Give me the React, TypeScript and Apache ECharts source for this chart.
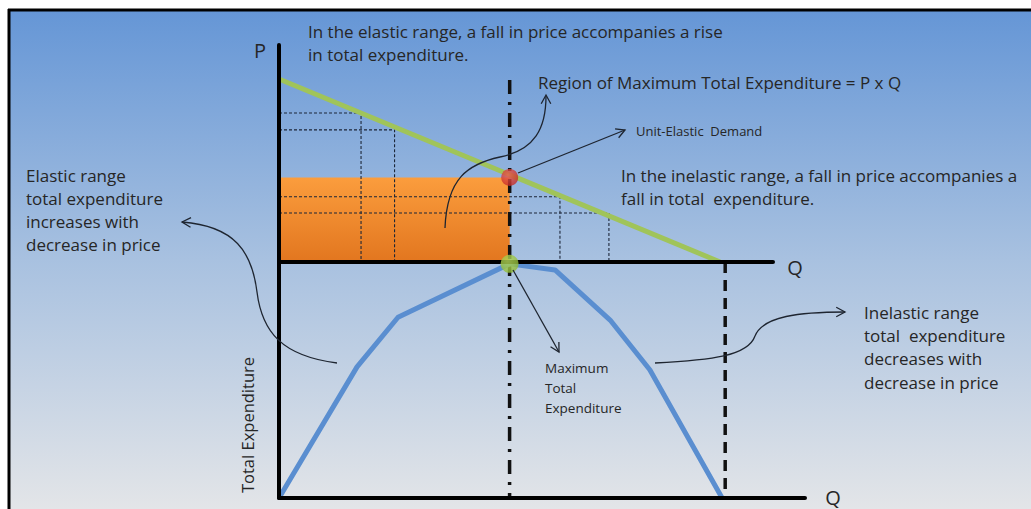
import React, { useEffect, useRef } from 'react';
import * as echarts from 'echarts';

// ---- data (diagram units) ----
const DEMAND_Q = [0, 10];
const DEMAND_P = [10, 0];
const CORNER_Q = [1.86, 2.62, 6.37, 7.48];
const CORNER_P = [8.14, 7.22, 3.57, 2.68];
const UNIT_Q = 5.23;
const UNIT_P = 4.62;
const TE_Q = [0, 1.77, 2.7, 5.23, 6.26, 7.51, 8.41, 10.05];
const TE_VAL = [0, 14.0, 19.3, 25.0, 24.35, 19.0, 13.7, 0];
const TE_PEAK = 25.0;
const TE_ZERO_Q = 10.12;
const Q_MAX_TOP = 11.2;
const P_MAX = 11.86;
const Q_MAX_BOTTOM = 11.93;
const TE_AXIS_MAX = 25.2;
const DASHDOT_TOP_P = 9.95;

const TOP_TEXT = ['In the elastic range, a fall in price accompanies a rise', 'in total expenditure.'];
const REGION_TEXT = 'Region of Maximum Total Expenditure = P x Q';
const UNIT_TEXT = 'Unit-Elastic  Demand';
const INELASTIC_TOP = ['In the inelastic range, a fall in price accompanies a', 'fall in total  expenditure.'];
const LEFT_TEXT = ['Elastic range', 'total expenditure', 'increases with', 'decrease in price'];
const RIGHT_TEXT = ['Inelastic range', 'total  expenditure', 'decreases with', 'decrease in price'];
const MAX_TEXT = ['Maximum', 'Total', 'Expenditure'];

const FONT = '"Open Sans", Lato, sans-serif';
const INK = '#1e2530';

function head(tx: number, ty: number, fx: number, fy: number, len = 10, ang = 0.5) {
  const a = Math.atan2(ty - fy, tx - fx);
  const p1 = [tx - len * Math.cos(a - ang), ty - len * Math.sin(a - ang)];
  const p2 = [tx - len * Math.cos(a + ang), ty - len * Math.sin(a + ang)];
  return {
    type: 'polyline',
    shape: { points: [p1, [tx, ty], p2] },
    style: { stroke: INK, lineWidth: 1.3, fill: 'none' },
    z: 60,
  };
}
function bez(x1: number, y1: number, cpx1: number, cpy1: number, cpx2: number, cpy2: number, x2: number, y2: number) {
  return {
    type: 'bezierCurve',
    shape: { x1, y1, cpx1, cpy1, cpx2, cpy2, x2, y2 },
    style: { stroke: INK, lineWidth: 1.3, fill: 'none' },
    z: 60,
  };
}
function seg(x1: number, y1: number, x2: number, y2: number) {
  return {
    type: 'line',
    shape: { x1, y1, x2, y2 },
    style: { stroke: INK, lineWidth: 1.3 },
    z: 60,
  };
}
function txt(x: number, y: number, lines: string[] | string, size: number, lh: number, extra: any = {}) {
  return {
    type: 'text',
    x,
    y,
    z: 70,
    style: {
      text: Array.isArray(lines) ? lines.join('\n') : lines,
      fill: '#262626',
      fontSize: size,
      fontFamily: FONT,
      lineHeight: lh,
      align: 'left',
      verticalAlign: 'top',
      ...extra,
    },
  };
}

export default function App() {
  const ref = useRef<HTMLDivElement>(null);
  useEffect(() => {
    if (!ref.current) return;
    const chart = echarts.init(ref.current, undefined, { renderer: 'svg' });
    const axisCommon = {
      type: 'value',
      axisTick: { show: false },
      axisLabel: { show: false },
      splitLine: { show: false },
      axisLine: { show: true, onZero: false, lineStyle: { color: '#000', width: 4 } },
      z: 8,
    };
    const dashedThin = { color: '#1c2638', width: 1.1, type: [3, 2] };
    const dashDot = { color: '#111', width: 3.5, type: [14, 8, 3, 8] };
    const series: any[] = [
      {
        type: 'line', xAxisIndex: 0, yAxisIndex: 0, silent: true, symbol: 'none', z: 1,
        data: [[0, UNIT_P], [UNIT_Q, UNIT_P]],
        lineStyle: { width: 0 },
        areaStyle: {
          opacity: 1,
          color: new echarts.graphic.LinearGradient(0, 0, 0, 1, [
            { offset: 0, color: '#FB9D3D' },
            { offset: 1, color: '#E2761F' },
          ]),
        },
      },
    ];
    CORNER_Q.forEach((q, i) => {
      series.push({
        type: 'line', xAxisIndex: 0, yAxisIndex: 0, silent: true, symbol: 'none', z: 3,
        data: [[0, CORNER_P[i]], [q, CORNER_P[i]], [q, 0]],
        lineStyle: dashedThin,
      });
    });
    series.push(
      {
        type: 'line', xAxisIndex: 0, yAxisIndex: 0, silent: true, symbol: 'none', z: 4,
        data: DEMAND_Q.map((q, i) => [q, DEMAND_P[i]]),
        lineStyle: { color: '#A0C45A', width: 5 },
      },
      {
        type: 'line', xAxisIndex: 0, yAxisIndex: 0, silent: true, symbol: 'none', z: 5,
        data: [[UNIT_Q, DASHDOT_TOP_P], [UNIT_Q, 0]],
        lineStyle: dashDot,
      },
      {
        type: 'line', xAxisIndex: 1, yAxisIndex: 1, silent: true, symbol: 'none', z: 5,
        data: [[UNIT_Q, TE_AXIS_MAX], [UNIT_Q, 0]],
        lineStyle: dashDot,
      },
      {
        type: 'line', xAxisIndex: 1, yAxisIndex: 1, silent: true, symbol: 'none', z: 5,
        data: [[TE_ZERO_Q, TE_AXIS_MAX], [TE_ZERO_Q, 0]],
        lineStyle: { color: '#111', width: 3.5, type: [11, 7] },
      },
      {
        type: 'line', xAxisIndex: 1, yAxisIndex: 1, silent: true, symbol: 'none', z: 6,
        data: TE_Q.map((q, i) => [q, TE_VAL[i]]),
        lineStyle: { color: '#5A8ED0', width: 5, join: 'round' },
      },
      {
        type: 'scatter', xAxisIndex: 0, yAxisIndex: 0, silent: true, z: 10,
        data: [[UNIT_Q, UNIT_P]], symbolSize: 17,
        itemStyle: {
          color: new echarts.graphic.RadialGradient(0.4, 0.35, 0.7, [
            { offset: 0, color: '#E85A4E' },
            { offset: 1, color: '#C42A24' },
          ]),
        },
      },
      {
        type: 'scatter', xAxisIndex: 1, yAxisIndex: 1, silent: true, z: 10,
        data: [[UNIT_Q, TE_PEAK]], symbolSize: 18,
        itemStyle: {
          color: new echarts.graphic.RadialGradient(0.4, 0.35, 0.7, [
            { offset: 0, color: '#B5D95A' },
            { offset: 1, color: '#8DB834' },
          ]),
        },
      }
    );

    const graphic: any[] = [
      {
        type: 'rect', z: -10, silent: true,
        shape: { x: 10, y: 10, width: 1021, height: 499 },
        style: {
          fill: new echarts.graphic.LinearGradient(0, 0, 0, 1, [
            { offset: 0, color: '#6596D6' },
            { offset: 0.5, color: '#A8C1E0' },
            { offset: 1, color: '#E3E5E8' },
          ]),
        },
      },
      { type: 'line', z: 60, shape: { x1: 8, y1: 10, x2: 1031, y2: 10 }, style: { stroke: '#000', lineWidth: 3 } },
      { type: 'line', z: 60, shape: { x1: 9, y1: 9, x2: 9, y2: 509 }, style: { stroke: '#000', lineWidth: 3 } },
      // left arrow
      bez(337, 363, 282, 356, 262, 332, 257, 292),
      bez(257, 292, 252, 252, 235, 226, 182, 222),
      head(182, 222, 200, 223),
      // region arrow
      bez(445, 228, 447, 178, 468, 164, 500, 157),
      bez(500, 157, 535, 150, 546, 128, 546, 96),
      head(546, 95, 546, 110),
      // unit elastic arrow
      seg(518, 173, 625, 130),
      head(625, 130, 518, 173),
      // max TE arrow
      seg(513, 270, 559, 352),
      head(559, 352, 513, 270),
      // right arrow
      bez(655, 363, 712, 360, 748, 356, 755, 336),
      bez(755, 336, 763, 316, 800, 312, 845, 312),
      head(845, 312, 830, 312),
      // texts
      txt(260, 50, 'P', 20, 20, { align: 'center', verticalAlign: 'middle' }),
      txt(795, 267, 'Q', 20, 20, { align: 'center', verticalAlign: 'middle' }),
      txt(833, 497, 'Q', 20, 20, { align: 'center', verticalAlign: 'middle' }),
      txt(308, 19.5, TOP_TEXT, 17, 23),
      txt(538, 70.5, REGION_TEXT, 17, 23),
      txt(636, 123, UNIT_TEXT, 13, 16),
      txt(621, 163.5, INELASTIC_TOP, 17, 23),
      txt(26, 163.5, LEFT_TEXT, 17, 23),
      txt(864, 300.5, RIGHT_TEXT, 17, 23.3),
      txt(545, 358, MAX_TEXT, 13.5, 20),
      {
        type: 'text', x: 247, y: 425, rotation: Math.PI / 2, z: 70,
        style: { text: 'Total Expenditure', fill: '#262626', fontSize: 16.5, fontFamily: FONT, align: 'center', verticalAlign: 'middle' },
      },
    ];

    chart.setOption({
      animation: false,
      backgroundColor: '#fff',
      grid: [
        { left: 279, top: 45, width: 494, height: 217 },
        { left: 279, top: 262, width: 526, height: 236 },
      ],
      xAxis: [
        { ...axisCommon, gridIndex: 0, min: 0, max: Q_MAX_TOP },
        { ...axisCommon, gridIndex: 1, min: 0, max: Q_MAX_BOTTOM },
      ],
      yAxis: [
        { ...axisCommon, gridIndex: 0, min: 0, max: P_MAX },
        { ...axisCommon, gridIndex: 1, min: 0, max: TE_AXIS_MAX },
      ],
      series,
      graphic,
    });
    return () => chart.dispose();
  }, []);
  return <div ref={ref} style={{ position: 'fixed', left: 0, top: 0, width: 1031, height: 509 }} />;
}
